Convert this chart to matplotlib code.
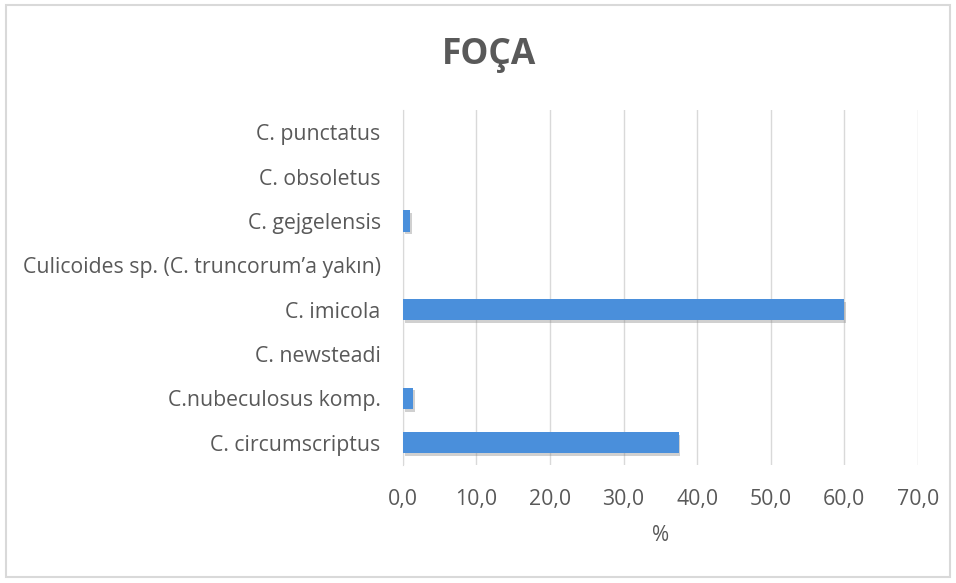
import matplotlib
matplotlib.use('Agg')
import matplotlib.pyplot as plt
import matplotlib.patheffects as pe
from matplotlib.patches import Rectangle

# species, bottom to top as drawn
species = ["C. circumscriptus", "C.nubeculosus komp.", "C. newsteadi", "C. imicola",
           "Culicoides sp. (C. truncorum\u2019a yak\u0131n)", "C. gejgelensis",
           "C. obsoletus", "C. punctatus"]
percent = [37.5, 1.4, 0.0, 60.0, 0.0, 1.0, 0.0, 0.0]
xticks = [0, 10, 20, 30, 40, 50, 60, 70]
xtick_labels = ["0,0", "10,0", "20,0", "30,0", "40,0", "50,0", "60,0", "70,0"]

text_col = "#595959"
plt.rcParams['font.family'] = ['Open Sans', 'DejaVu Sans']

fig = plt.figure(figsize=(9.56, 5.83), dpi=100)
fig.patches.append(Rectangle((0.006, 0.01), 0.988, 0.982, transform=fig.transFigure,
                             fill=False, edgecolor="#d9d9d9", linewidth=1.5))
ax = fig.add_axes([0.4215, 0.2024, 0.5385, 0.6086])

bars = ax.barh(range(len(species)), percent, height=0.48, color="#4A8FDB", zorder=3)
for b in bars:
    b.set_path_effects([pe.SimplePatchShadow(offset=(1.2, -1.8), shadow_rgbFace="#8a8a8a", alpha=0.4),
                        pe.Normal()])

ax.set_xlim(0, 70)
ax.set_ylim(-0.5, len(species) - 0.5)
ax.set_xticks(xticks)
ax.set_xticklabels(xtick_labels)
ax.set_yticks(range(len(species)))
ax.set_yticklabels(species)
ax.tick_params(axis='both', length=0, labelsize=15.3, colors=text_col)
ax.tick_params(axis='y', pad=16)
ax.tick_params(axis='x', pad=17)
ax.grid(axis='x', color="#d9d9d9", linewidth=1, zorder=0)
for s in ["top", "right", "bottom"]:
    ax.spines[s].set_visible(False)
ax.spines["left"].set_color("#d9d9d9")
ax.set_xlabel("%", color=text_col, fontsize=15, labelpad=11)

fig.text(0.511, 0.906, "FO\u00c7A", ha="center", va="center", fontsize=25.5,
         fontweight="bold", color=text_col)

fig.savefig("out.png", dpi=100)
